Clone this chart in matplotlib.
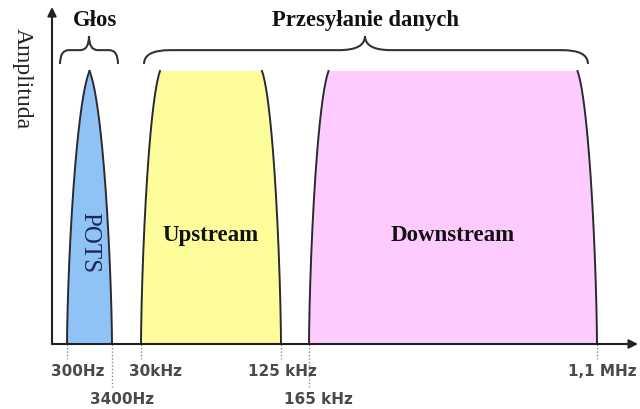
import numpy as np
import matplotlib
matplotlib.use("Agg")
import matplotlib.pyplot as plt
from matplotlib.path import Path
from matplotlib.patches import PathPatch

# ---- data -------------------------------------------------------------
tick_labels = ["300Hz", "3400Hz", "30kHz", "125 kHz", "165 kHz", "1,1 MHz"]
tick_pos = [15, 60, 89, 229, 257, 545]          # schematic axis positions
tick_row = [0, 1, 0, 0, 1, 0]                     # 0 = upper row, 1 = lower row

band_names = ["POTS", "Upstream", "Downstream"]
band_start = [15, 89, 257]
band_end = [60, 229, 545]
band_amp = [0.81, 0.81, 0.81]
band_rolloff = [22.5, 19, 19.5]
band_colors = ["#8fc3f5", "#fdfd9c", "#fecbfe"]

group_names = ["Głos", "Przesyłanie danych"]
group_start = [8, 92]
group_end = [66, 536]
group_tip = [37, 313]

# ---- figure -----------------------------------------------------------
W, H = 640, 410
fig = plt.figure(figsize=(W / 100, H / 100), dpi=100)
ax = fig.add_axes([52 / W, (H - 345) / H, (638 - 52) / W, (345 - 8) / H])
ax.set_xlim(0, 586)
ax.set_ylim(0, 1)
ax.axis("off")

serif = "Liberation Serif"
edge = "#2a2a30"

# bands
h = np.linspace(0, 1, 400)
c = 0.97
shape = (1 - np.sqrt(1 - c * h ** 1.5)) / (1 - np.sqrt(1 - c))
for name, x0, x1, amp, r, col in zip(band_names, band_start, band_end,
                                     band_amp, band_rolloff, band_colors):
    xl = x0 + r * shape
    xr = x1 - r * shape
    y = amp * h
    xs = np.concatenate([xl, xr[::-1]])
    ys = np.concatenate([y, y[::-1]])
    ax.fill(xs, ys, color=col, lw=0, zorder=2)
    ax.plot(xl, y, color=edge, lw=1.4, zorder=3)
    ax.plot(xr, y, color=edge, lw=1.4, zorder=3)

# band labels
ax.text((band_start[0] + band_end[0]) / 2, 0.303, band_names[0], rotation=-90,
        ha="center", va="center", family=serif, fontsize=18, color="#1c2a55")
for i in (1, 2):
    ax.text((band_start[i] + band_end[i]) / 2, 0.325, band_names[i],
            ha="center", va="center", family=serif, fontsize=16.5,
            fontweight="bold", color="#111111")

# braces
def brace(x0, x1, xc, y_end, y_mid, y_tip, r):
    verts = [(x0, y_end), (x0, y_mid), (x0 + r, y_mid),
             (xc - r, y_mid),
             (xc, y_mid), (xc, y_tip),
             (xc, y_mid), (xc + r, y_mid),
             (x1 - r, y_mid),
             (x1, y_mid), (x1, y_end)]
    codes = [Path.MOVETO, Path.CURVE3, Path.CURVE3, Path.LINETO,
             Path.CURVE3, Path.CURVE3, Path.CURVE3, Path.CURVE3,
             Path.LINETO, Path.CURVE3, Path.CURVE3]
    ax.add_patch(PathPatch(Path(verts, codes), fill=False, lw=1.5,
                           edgecolor="#333333", zorder=3, clip_on=False))

brace_r = [9, 26]
title_dx = [6, 0]
for name, x0, x1, xc, r, dx in zip(group_names, group_start, group_end,
                                   group_tip, brace_r, title_dx):
    brace(x0, x1, xc, 0.831, 0.872, 0.914, r)
    ax.text(xc + dx, 0.962, name, ha="center", va="center", family=serif,
            fontsize=16.3, fontweight="bold", color="#111111")

# axes arrows
arrow = dict(arrowstyle="-|>", color="#222222", lw=1.5, mutation_scale=13,
             shrinkA=0, shrinkB=0)
ax.annotate("", xy=(0, 1), xytext=(0, 0), xycoords="axes fraction",
            arrowprops=arrow, zorder=5)
ax.annotate("", xy=(1, 0), xytext=(0, 0), xycoords="axes fraction",
            arrowprops=arrow, zorder=5)

# y label
ax.text(-30, 0.792, "Amplituda", rotation=-90, ha="center", va="center",
        family=serif, fontsize=17, color="#222222", clip_on=False)

# ticks: dotted guides and labels
label_dx = [11, 10, 14, 1, 9, 5]
row_y = [-0.08, -0.162]
row_len = [-0.045, -0.128]
for lab, x, row, dx in zip(tick_labels, tick_pos, tick_row, label_dx):
    ax.plot([x, x], [0, row_len[row]], color="#888888", lw=1.0,
            linestyle=(0, (1, 1.5)), clip_on=False, zorder=1)
    ax.text(x + dx, row_y[row], lab, ha="center", va="center",
            fontsize=11, fontweight="bold", color="#4a4a4a",
            family="DejaVu Sans", clip_on=False)

fig.savefig("out.png", dpi=100, facecolor="white")
